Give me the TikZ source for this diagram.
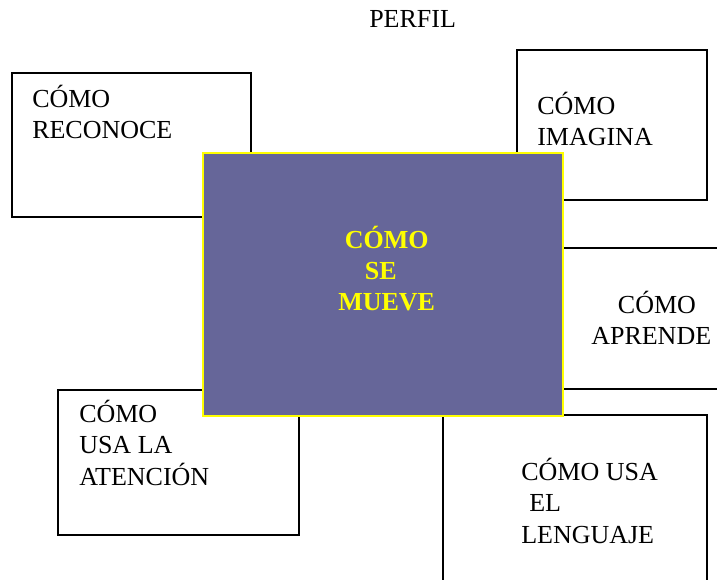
\documentclass[tikz,border=0pt]{standalone}
\usepackage{fontspec}
\setmainfont{Liberation Serif}
\definecolor{centrefill}{RGB}{102,102,153}
\definecolor{centreline}{RGB}{255,255,0}
\tikzset{
  boxline/.style={draw=black,line width=1.2pt},
  boxtext/.style={anchor=base west,inner sep=0pt,align=left,font=\fontsize{19.5}{23.5}\selectfont},
  centretext/.style={anchor=base west,inner sep=0pt,align=left,text=centreline,font=\fontsize{19.5}{23.5}\selectfont\bfseries}
}
\begin{document}
\begin{tikzpicture}[x=0.75pt,y=0.75pt,yscale=-1,xscale=1]
\useasboundingbox (0,0) rectangle (717,580);

%Shape: Rectangle, top left
\draw [boxline]  (12,73) rectangle (251,217) ;
%Shape: Rectangle, top right
\draw [boxline]  (517,50) rectangle (707,200) ;
%Straight Lines, right box
\draw [boxline]  (550,248) -- (717,248) ;
\draw [boxline]  (550,389) -- (717,389) ;
%Shape: Rectangle, bottom left
\draw [boxline]  (58,390) rectangle (299,535) ;
%Open box, bottom right
\draw [boxline]  (443,580) -- (443,415) -- (707,415) -- (707,580) ;
%Shape: Rectangle, centre
\draw [draw=centreline,fill=centrefill,line width=1.4pt]  (203,153) rectangle (563,416) ;

%Text Nodes (anchored at the last line)
\node [boxtext] (perfil) at (369,28) {PERFIL};
\node [boxtext] (reconoce) at (32,139) {CÓMO\\RECONOCE};
\node [boxtext] (imagina) at (537,146) {CÓMO\\IMAGINA};
\node [boxtext] (aprende) at (591,345) {\hspace*{20pt}CÓMO\\APRENDE};
\node [boxtext] (atencion) at (79,485) {CÓMO\\USA LA\\ATENCIÓN};
\node [boxtext] (lenguaje) at (521,543) {CÓMO USA\\\hspace*{6pt}EL\\LENGUAJE};
\node [centretext] (mueve) at (338,311) {\hspace*{5pt}CÓMO\\\hspace*{20pt}SE\\MUEVE};

\end{tikzpicture}
\end{document}
